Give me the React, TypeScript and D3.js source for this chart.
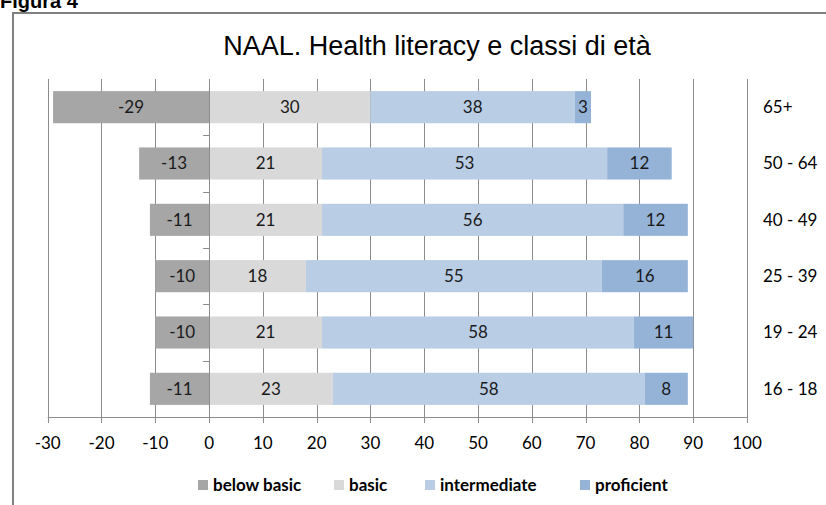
import React from "react";
import * as d3 from "d3";

const categories = ["65+", "50 - 64", "40 - 49", "25 - 39", "19 - 24", "16 - 18"];
const belowBasic = [-29, -13, -11, -10, -10, -11];
const basic = [30, 21, 21, 18, 21, 23];
const intermediate = [38, 53, 56, 55, 58, 58];
const proficient = [3, 12, 12, 16, 11, 8];
const seriesNames = ["below basic", "basic", "intermediate", "proficient"];
const seriesColors = ["#a6a6a6", "#d9d9d9", "#b9cde5", "#95b3d7"];
const xTicks = [-30, -20, -10, 0, 10, 20, 30, 40, 50, 60, 70, 80, 90, 100];

const W = 826;
const H = 505;
const FONT = "Lato, 'Open Sans', sans-serif";

export default function App() {
  const x = d3.scaleLinear().domain([-30, 100]).range([47.7, 747]);
  const y = d3.scaleBand().domain(categories).range([79, 417]).paddingInner(0.43).paddingOuter(0.215);
  const step = y.step();
  const top = 79;
  const bottom = 417;

  const segs: { cat: string; x0: number; x1: number; v: number; color: string; key: string }[] = [];
  categories.forEach((c, i) => {
    segs.push({ cat: c, x0: belowBasic[i], x1: 0, v: belowBasic[i], color: seriesColors[0], key: "bb" + i });
    let acc = 0;
    [basic, intermediate, proficient].forEach((arr, j) => {
      segs.push({ cat: c, x0: acc, x1: acc + arr[i], v: arr[i], color: seriesColors[j + 1], key: "s" + j + i });
      acc += arr[i];
    });
  });

  const legendX = [198, 334, 425, 580];

  return (
    <svg width={W} height={H} style={{ position: "absolute", left: 0, top: 0, background: "#fff" }}>
      <rect x={0} y={0} width={W} height={H} fill="#fff" />
      <text x={0} y={8} fontFamily="'Liberation Sans', Arial, sans-serif" fontWeight="bold" fontSize={20} fill="#000">
        Figura 4
      </text>
      <line x1={13} y1={13} x2={W} y2={13} stroke="#808080" strokeWidth={2} />
      <line x1={13} y1={12} x2={13} y2={H} stroke="#808080" strokeWidth={2} />
      <text x={437} y={55} textAnchor="middle" fontFamily="'Liberation Sans', Arial, sans-serif" fontSize={27} fill="#000">
        NAAL. Health literacy e classi di età
      </text>
      {xTicks.filter((t) => t !== 0).map((t) => (
        <line key={"g" + t} x1={Math.round(x(t)) + 0.5} x2={Math.round(x(t)) + 0.5} y1={top} y2={bottom} stroke="#8c8c8c" strokeWidth={1} />
      ))}
      {segs.map((s) => (
        <rect
          key={s.key}
          x={x(Math.min(s.x0, s.x1))}
          y={y(s.cat)!}
          width={Math.abs(x(s.x1) - x(s.x0))}
          height={y.bandwidth()}
          fill={s.color}
        />
      ))}
      <line x1={Math.round(x(0)) + 0.5} x2={Math.round(x(0)) + 0.5} y1={top} y2={bottom} stroke="#8c8c8c" strokeWidth={1} />
      {categories.slice(1).map((c) => (
        <line key={"mt" + c} x1={x(0) - 6} x2={x(0)} y1={Math.round(y(c)! - (step - y.bandwidth()) / 2) + 0.5} y2={Math.round(y(c)! - (step - y.bandwidth()) / 2) + 0.5} stroke="#8c8c8c" />
      ))}
      <line x1={x(-30)} x2={x(100)} y1={bottom + 0.5} y2={bottom + 0.5} stroke="#8c8c8c" />
      {xTicks.map((t) => (
        <g key={"t" + t}>
          <line x1={Math.round(x(t)) + 0.5} x2={Math.round(x(t)) + 0.5} y1={bottom} y2={bottom + 6} stroke="#8c8c8c" />
          <text x={x(t)} y={443} dy="0.35em" textAnchor="middle" fontFamily={FONT} fontSize={17} fill="#000">
            {t}
          </text>
        </g>
      ))}
      {segs.map((s) => (
        <text
          key={"l" + s.key}
          x={(x(s.x0) + x(s.x1)) / 2}
          y={y(s.cat)! + y.bandwidth() / 2}
          dy="0.35em"
          textAnchor="middle"
          fontFamily={FONT}
          fontSize={17}
          fill="#1a1a1a"
        >
          {s.v}
        </text>
      ))}
      {categories.map((c) => (
        <text key={"c" + c} x={763} y={y(c)! + y.bandwidth() / 2} dy="0.35em" fontFamily={FONT} fontSize={17} fill="#000">
          {c}
        </text>
      ))}
      {seriesNames.map((n, i) => (
        <g key={"lg" + n}>
          <rect x={legendX[i]} y={480} width={10} height={10} fill={seriesColors[i]} />
          <text x={legendX[i] + 15} y={485} dy="0.35em" fontFamily={FONT} fontWeight="bold" fontSize={17} fill="#000">
            {n}
          </text>
        </g>
      ))}
    </svg>
  );
}
